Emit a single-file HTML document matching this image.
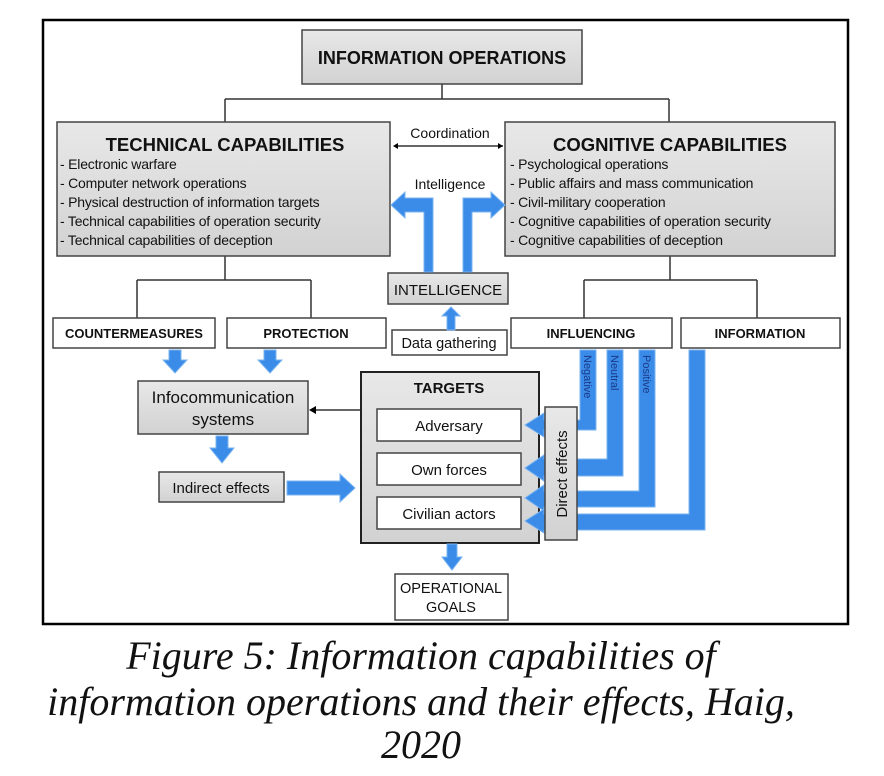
<!DOCTYPE html>
<html><head><meta charset="utf-8"><style>
body{margin:0;background:#fff;width:884px;height:776px;overflow:hidden}
svg{display:block}
text{font-family:"Liberation Sans",Arial,sans-serif;fill:#111}
.b{font-weight:bold}
.cap{font-family:"Liberation Serif",serif;font-style:italic;font-size:40px}
</style></head><body>
<svg width="884" height="776" viewBox="0 0 884 776">
<defs><linearGradient id="g" x1="0" y1="0" x2="0" y2="1"><stop offset="0" stop-color="#e8e8e8"/><stop offset="1" stop-color="#d2d2d2"/></linearGradient></defs>
<rect x="43" y="20" width="805" height="604" fill="#fff" stroke="#000" stroke-width="2.5"/>
<g stroke="#333" stroke-width="1.5" fill="none">
<path d="M442 84V99M225 99H669M225 99V122M669 99V122"/>
<path d="M225 256V280M137 280H311M137 280V318M311 280V318"/>
<path d="M670 256V280M584 280H757M584 280V318M757 280V318"/>
<path d="M395 146H503"/>
<path d="M361 410H314"/>
</g>
<path d="M393 146l5-3v6zM503 146l-5-3v6zM309 410l7-4v8z" fill="#000"/>
<g stroke="#444" stroke-width="1.5">
<rect x="302" y="30" width="280" height="54" fill="url(#g)"/>
<rect x="57" y="122" width="333" height="134" fill="url(#g)"/>
<rect x="505" y="122" width="330" height="134" fill="url(#g)"/>
<rect x="388" y="273" width="120" height="31" fill="url(#g)"/>
<rect x="392" y="330" width="115" height="25" fill="#fff"/>
<rect x="53" y="318" width="162" height="30" fill="#fff"/>
<rect x="227" y="318" width="159" height="30" fill="#fff"/>
<rect x="511" y="318" width="161" height="30" fill="#fff"/>
<rect x="681" y="318" width="159" height="30" fill="#fff"/>
<rect x="138" y="381" width="170" height="53" fill="url(#g)"/>
<rect x="159" y="472" width="125" height="30" fill="url(#g)"/>
<rect x="361" y="372" width="178" height="171" fill="url(#g)" stroke="#222" stroke-width="2"/>
<rect x="377" y="409" width="144" height="32" fill="#fff"/>
<rect x="377" y="453" width="144" height="32" fill="#fff"/>
<rect x="377" y="497" width="144" height="32" fill="#fff"/>
<rect x="395" y="574" width="113" height="46" fill="#fff"/>
</g>
<g fill="#3a8ce8" stroke="#7ab4f2" stroke-width="1">
<path d="M424 272V212H405V218L391 205L405 192V198H433V272Z"/>
<path d="M472 272V212H491V218L505 205L491 192V198H463V272Z"/>
<path d="M447 330V316H442L451 307L460 316H455V330Z"/>
<path d="M169 350V360H163L175 373L187 360H181V350Z"/>
<path d="M264 350V360H258L270 373L282 360H276V350Z"/>
<path d="M216 436V448H210L222 463L234 448H228V436Z"/>
<path d="M287 481H340V474L355 488L340 502V495H287Z"/>
<path d="M447 544V557H442L452 570L462 557H457V544Z"/>
<path d="M580 350H596V430H544V437L525 425L544 413V420H580Z"/>
<path d="M607 350H623V476H544V481L525 468L544 455V459H607Z"/>
<path d="M639 350H655V507H544V511L525 498L544 485V491H639Z"/>
<path d="M689 350H705V530H544V533L525 521L544 509V514H689Z"/>
</g>
<rect x="545" y="407" width="32" height="133" fill="url(#g)" stroke="#444" stroke-width="1.5"/>
<text x="442" y="64" class="b" font-size="18" text-anchor="middle">INFORMATION OPERATIONS</text>
<text x="225" y="151" class="b" font-size="18.5" text-anchor="middle">TECHNICAL CAPABILITIES</text>
<g font-size="14" letter-spacing="-0.2">
<text x="60" y="169">- Electronic warfare</text>
<text x="60" y="188">- Computer network operations</text>
<text x="60" y="207">- Physical destruction of information targets</text>
<text x="60" y="226">- Technical capabilities of operation security</text>
<text x="60" y="245">- Technical capabilities of deception</text>
<text x="510" y="169">- Psychological operations</text>
<text x="510" y="188">- Public affairs and mass communication</text>
<text x="510" y="207">- Civil-military cooperation</text>
<text x="510" y="226">- Cognitive capabilities of operation security</text>
<text x="510" y="245">- Cognitive capabilities of deception</text>
</g>
<text x="670" y="151" class="b" font-size="18.5" text-anchor="middle">COGNITIVE CAPABILITIES</text>
<text x="450" y="138" font-size="14" text-anchor="middle">Coordination</text>
<text x="450" y="189" font-size="14" text-anchor="middle">Intelligence</text>
<text x="448" y="295" font-size="15" text-anchor="middle">INTELLIGENCE</text>
<text x="449" y="348" font-size="14.5" text-anchor="middle">Data gathering</text>
<g font-size="13" text-anchor="middle">
<text x="134" y="338" class="b">COUNTERMEASURES</text>
<text x="306" y="338" class="b">PROTECTION</text>
<text x="591" y="338" class="b">INFLUENCING</text>
<text x="760" y="338" class="b">INFORMATION</text>
<text x="449" y="393" class="b" font-size="15">TARGETS</text>
</g>
<text x="223" y="403" font-size="17" text-anchor="middle">Infocommunication</text>
<text x="223" y="425" font-size="17" text-anchor="middle">systems</text>
<text x="221" y="493" font-size="15" text-anchor="middle">Indirect effects</text>
<text x="449" y="431" font-size="15" text-anchor="middle">Adversary</text>
<text x="449" y="475" font-size="15" text-anchor="middle">Own forces</text>
<text x="449" y="519" font-size="15" text-anchor="middle">Civilian actors</text>
<text transform="translate(567,474) rotate(-90)" font-size="15" text-anchor="middle">Direct effects</text>
<g font-size="11">
<text transform="translate(584,355) rotate(90)" style="fill:#1a3a8a">Negative</text>
<text transform="translate(611,355) rotate(90)" style="fill:#1a3a8a">Neutral</text>
<text transform="translate(643,355) rotate(90)" style="fill:#1a3a8a">Positive</text>
</g>
<text x="451" y="593" font-size="14.5" text-anchor="middle">OPERATIONAL</text>
<text x="451" y="612" font-size="14.5" text-anchor="middle">GOALS</text>
<text x="421" y="669" class="cap" text-anchor="middle">Figure 5: Information capabilities of</text>
<text x="421" y="715" class="cap" text-anchor="middle">information operations and their effects, Haig,</text>
<text x="421" y="758" class="cap" text-anchor="middle">2020</text>
</svg>
</body></html>
